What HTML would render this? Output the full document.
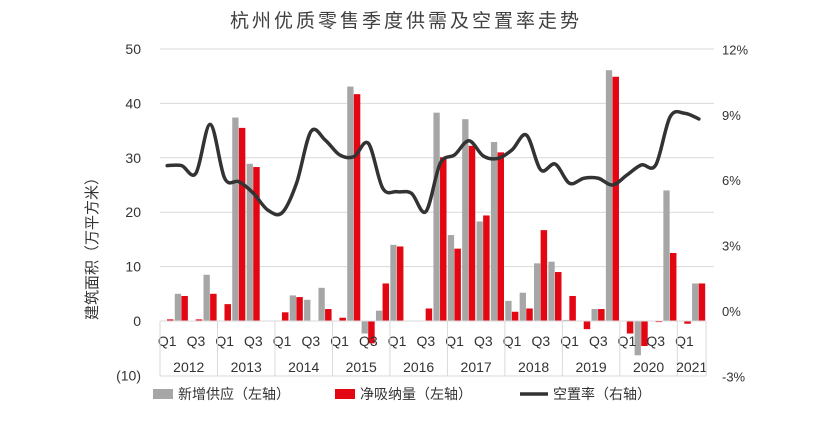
<!DOCTYPE html>
<html><head><meta charset="utf-8">
<style>
body{margin:0;background:#fff;}
svg text{font-family:"Liberation Sans","Noto Sans CJK SC",sans-serif;fill:#333;}
</style></head>
<body>
<svg id="chart" width="833" height="417" viewBox="0 0 833 417" xmlns="http://www.w3.org/2000/svg">
<text x="406" y="27" font-size="19" text-anchor="middle" letter-spacing="3" style="fill:#404040">杭州优质零售季度供需及空置率走势</text>
<g id="grid"></g><g id="bars"></g><g id="axes"></g><g id="line"></g>
<text transform="translate(97,245) rotate(-90)" font-size="15" text-anchor="middle">建筑面积（万平方米）</text>
<g>
<rect x="153" y="389" width="20" height="10" fill="#a6a6a6"/>
<text x="178" y="399" font-size="14">新增供应（左轴）</text>
<rect x="335" y="389" width="20" height="10" fill="#e30613"/>
<text x="360" y="399" font-size="14">净吸纳量（左轴）</text>
<line x1="520" y1="394" x2="548" y2="394" stroke="#333" stroke-width="3.5"/>
<text x="553" y="399" font-size="14">空置率（右轴）</text>
</g>
</svg>
<script>
const years=["2012","2013","2014","2015","2016","2017","2018","2019","2020","2021"];
const supply=[0,5.0,0,8.5, 0,37.4,28.9,0, 0,4.7,3.9,6.1, 0,43.1,-2.3,1.9, 14.0,0,0,38.3, 15.8,37.1,18.3,32.9, 3.7,5.2,10.6,10.9, 0.2,0,2.2,46.1, 0,-6.3,0,24.0, 0,6.9];
const absorption=[0.3,4.6,0.3,5.0, 3.1,35.5,28.3,0, 1.6,4.4,0,2.2, 0.6,41.7,-4.1,6.9, 13.7,0,2.3,30.1, 13.3,32.2,19.4,31.0, 1.7,2.3,16.7,9.0, 4.6,-1.5,2.2,44.9, -2.3,-4.6,-0.2,12.5, -0.5,6.9];
const vacancy=[6.67,6.67,6.32,8.56, 6.09,5.93,5.40,4.63, 4.51,5.86,8.23,7.84, 7.16,7.08,7.69,5.63, 5.47,5.40,4.56,6.77, 7.16,7.81,7.11,7.00, 7.39,8.07,6.47,6.74, 5.86,6.09,6.09,5.78, 6.24,6.70,6.70,8.91, 9.07,8.81];
const leftTicks=[50,40,30,20,10,0,-10];
const leftTickLabels=["50","40","30","20","10","0","(10)"];
const rightTicks=[12,9,6,3,0,-3];
const rightTickLabels=["12%","9%","6%","3%","0%","-3%"];

const NS="http://www.w3.org/2000/svg";
const x0=160,qw=14.37,yL=v=>321-v*5.44,yR=p=>311-p*21.8;
function mk(tag,attrs,parent,txt){const e=document.createElementNS(NS,tag);for(const k in attrs)e.setAttribute(k,attrs[k]);if(txt!==undefined)e.textContent=txt;parent.appendChild(e);return e;}
const grid=document.getElementById('grid'),bars=document.getElementById('bars'),axes=document.getElementById('axes'),line=document.getElementById('line');
leftTicks.forEach((t,i)=>{
  if(t>0){const g=mk('line',{x1:160,x2:714,y1:yL(t),y2:yL(t),stroke:'#d9d9d9','stroke-width':1},grid);
  
  }
  const l=mk('text',{x:141,y:yL(t)+5,'font-size':14,'text-anchor':'end'},axes,leftTickLabels[i]);
  
  
});
rightTicks.forEach((t,i)=>{
  const l=mk('text',{x:722,y:yR(t)+5,'font-size':13},axes,rightTickLabels[i]);
  
  
});
supply.forEach((v,i)=>{
  const xs=x0+i*qw+0.4;
  const g=mk('rect',{x:xs,y:Math.min(yL(v),yL(0)),width:6.3,height:Math.abs(yL(v)-yL(0)),fill:'#a6a6a6'},bars);
  
  
  const a=absorption[i];
  const r=mk('rect',{x:xs+6.6,y:Math.min(yL(a),yL(0)),width:6.5,height:Math.abs(yL(a)-yL(0)),fill:'#e30613'},bars);
  
  
});
const n=supply.length,xEnd=x0+n*qw;
const ax=mk('line',{x1:x0,x2:xEnd,y1:321,y2:321,stroke:'#d9d9d9'},axes);


const ab=mk('line',{x1:x0,x2:xEnd,y1:376,y2:376,stroke:'#d9d9d9'},axes);


for(let i=0;i<n;i++){
  if(i%2===0){const q=mk('text',{x:x0+i*qw+qw/2,y:346,'font-size':14,'text-anchor':'middle'},axes,(i%4===0)?'Q1':'Q3');
  
  }
}
years.forEach((y,k)=>{
  const s=x0+k*4*qw,e=Math.min(x0+(k+1)*4*qw,xEnd);
  const sep=mk('line',{x1:s,x2:s,y1:321,y2:376,stroke:'#d9d9d9'},axes);
  
  
  const t=mk('text',{x:(s+e)/2,y:372,'font-size':14,'text-anchor':'middle'},axes,y);
  
  
});
const se=mk('line',{x1:xEnd,x2:xEnd,y1:321,y2:376,stroke:'#d9d9d9'},axes);


const pts=vacancy.map((p,i)=>[x0+i*qw+qw/2,yR(p)]);
let d='M'+pts[0][0]+','+pts[0][1];
for(let i=0;i<pts.length-1;i++){
  const p0=pts[Math.max(i-1,0)],p1=pts[i],p2=pts[i+1],p3=pts[Math.min(i+2,pts.length-1)];
  const c1=[p1[0]+(p2[0]-p0[0])/6,p1[1]+(p2[1]-p0[1])/6],c2=[p2[0]-(p3[0]-p1[0])/6,p2[1]-(p3[1]-p1[1])/6];
  d+=' C'+c1+' '+c2+' '+p2;
}
const pl=mk('path',{d:d,fill:'none',stroke:'#333','stroke-width':3.5,'stroke-linecap':'round'},line);


</script>
</body></html>
